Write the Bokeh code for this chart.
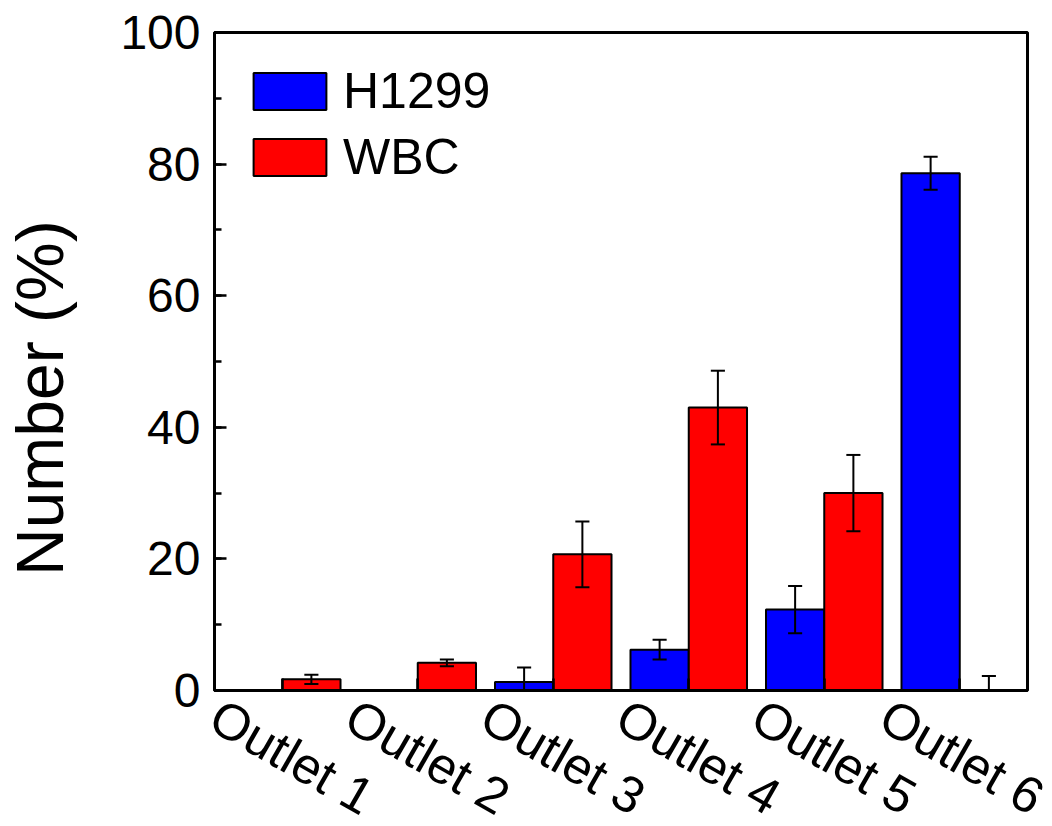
import numpy as np
from bokeh.plotting import figure
from bokeh.models import (ColumnDataSource, Range1d, FixedTicker, SingleIntervalTicker,
                          Legend, LegendItem, LinearAxis)
from bokeh.embed import file_html
from bokeh.resources import INLINE

# ---- data ----
outlets = ["Outlet 1", "Outlet 2", "Outlet 3", "Outlet 4", "Outlet 5", "Outlet 6"]
h1299 = [0.0, 0.0, 1.3, 6.2, 12.3, 78.6]
h1299_err = [0.0, 0.0, 2.2, 1.5, 3.6, 2.5]
wbc = [1.7, 4.2, 20.7, 43.0, 30.0, 0.0]
wbc_err = [0.7, 0.5, 5.0, 5.6, 5.8, 2.2]

FONT = "Liberation Sans"
BLUE = "#0000FF"
RED = "#FF0000"

pos = np.arange(1, len(outlets) + 1, dtype=float)
bw = 0.43
off = bw / 2.0
capw = 0.052
label_shift = 0.5

p = figure(frame_width=813, frame_height=658,
           min_border_left=213, min_border_right=26, min_border_top=32, min_border_bottom=136,
           x_range=Range1d(0.5, 6.5), y_range=Range1d(0, 100),
           output_backend="svg", toolbar_location=None, background_fill_color="white",
           border_fill_color="white")
p.grid.visible = False
p.outline_line_color = "black"
p.outline_line_width = 3

src_h = ColumnDataSource(dict(x=pos - off, top=h1299, err=h1299_err))
src_w = ColumnDataSource(dict(x=pos + off, top=wbc, err=wbc_err))

rh = p.vbar(x="x", top="top", bottom=0, width=bw, source=src_h,
            fill_color=BLUE, line_color="black", line_width=2)
rw = p.vbar(x="x", top="top", bottom=0, width=bw, source=src_w,
            fill_color=RED, line_color="black", line_width=2)

# error bars
for xs, vals, errs in ((pos - off, h1299, h1299_err), (pos + off, wbc, wbc_err)):
    v = np.array(vals)
    e = np.array(errs)
    m = e > 0
    xx = xs[m]
    up = (v + e)[m]
    lo = (v - e)[m]
    p.segment(x0=xx, y0=lo, x1=xx, y1=up, line_color="black", line_width=2)
    p.segment(x0=xx - capw, y0=up, x1=xx + capw, y1=up, line_color="black", line_width=2)
    p.segment(x0=xx - capw, y0=lo, x1=xx + capw, y1=lo, line_color="black", line_width=2)

# y axis
yax = p.yaxis[0]
yax.ticker = SingleIntervalTicker(interval=20, num_minor_ticks=2)
yax.axis_label = "Number (%)" + "\u00a0" * 4
yax.axis_label_text_font = FONT
yax.axis_label_text_font_size = "66px"
yax.axis_label_text_font_style = "normal"
yax.axis_label_text_color = "black"
yax.axis_label_standoff = 40
yax.major_label_text_font = FONT
yax.major_label_text_font_size = "48px"
yax.major_label_text_color = "black"
yax.major_label_standoff = 14
yax.axis_line_width = 3
yax.major_tick_in = 12
yax.major_tick_out = 0
yax.minor_tick_in = 7
yax.minor_tick_out = 0
yax.major_tick_line_width = 2.5
yax.minor_tick_line_width = 2.5

# x axis: ticks at group centres (no labels)
xax = p.xaxis[0]
xax.ticker = FixedTicker(ticks=list(pos))
xax.major_label_overrides = {float(t): "" for t in pos}
xax.major_label_standoff = 0
xax.axis_line_width = 3
xax.major_tick_in = 12
xax.major_tick_out = 0
xax.minor_tick_line_color = None
xax.major_tick_line_width = 2.5

# second x axis carrying the rotated labels, centred under each group
lab_ticks = [float(t) for t in (pos - label_shift)]
lax = LinearAxis(ticker=FixedTicker(ticks=lab_ticks),
                 major_label_overrides={t: lab for t, lab in zip(lab_ticks, outlets)})
lax.axis_line_color = None
lax.major_tick_line_color = None
lax.minor_tick_line_color = None
lax.major_tick_in = 0
lax.major_tick_out = 0
lax.major_label_orientation = -0.52
lax.major_label_text_font = FONT
lax.major_label_text_font_size = "51px"
lax.major_label_text_color = "black"
lax.major_label_standoff = 22
p.add_layout(lax, "below")

legend = Legend(items=[LegendItem(label="H1299", renderers=[rh]),
                       LegendItem(label="WBC", renderers=[rw])],
                location="top_left")
legend.glyph_width = 91
legend.glyph_height = 46
legend.label_text_font = FONT
legend.label_text_font_size = "50px"
legend.label_text_color = "black"
legend.label_standoff = 8
legend.label_height = 46
legend.spacing = 8
legend.padding = 0
legend.margin = 30
legend.border_line_color = None
legend.background_fill_alpha = 0
p.add_layout(legend)

open("out.html", "w").write(file_html(p, INLINE))
